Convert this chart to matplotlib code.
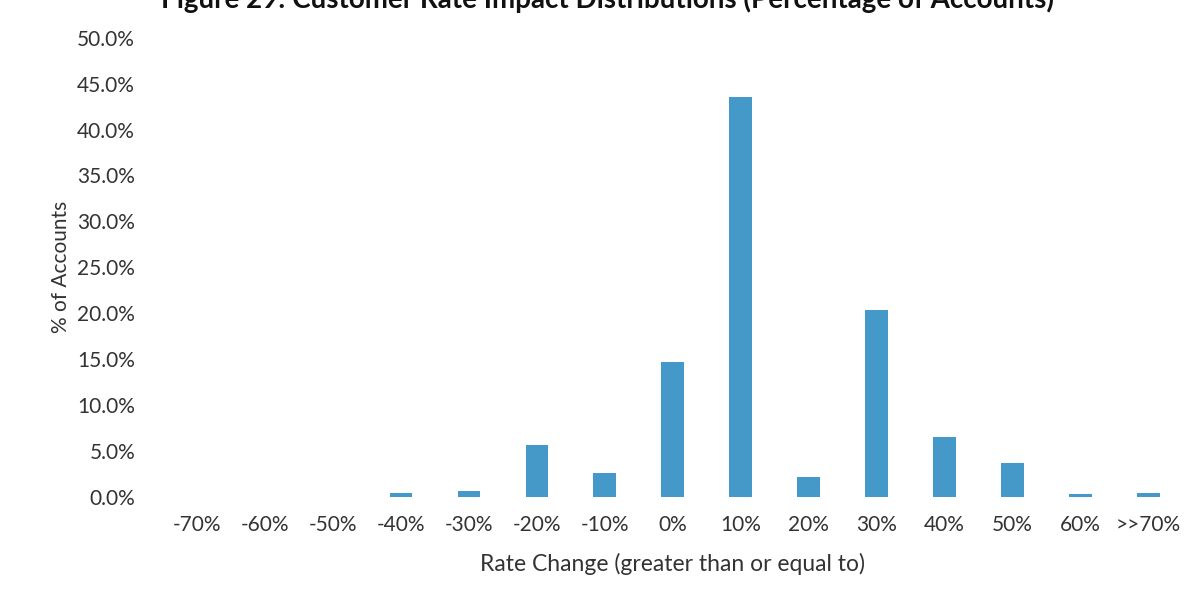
import numpy as np
import matplotlib.pyplot as plt
from matplotlib.ticker import PercentFormatter

plt.rcParams['font.family'] = ['Lato', 'DejaVu Sans']

categories = ['-70%', '-60%', '-50%', '-40%', '-30%', '-20%', '-10%', '0%',
              '10%', '20%', '30%', '40%', '50%', '60%', '>>70%']
share = [0.0, 0.0, 0.0, 0.4, 0.6, 5.6, 2.6, 14.7,
         43.6, 2.2, 20.4, 6.5, 3.7, 0.3, 0.4]

fig = plt.figure(figsize=(11.98, 6.0), dpi=100)
ax = fig.add_axes([0.136, 0.172, 0.851, 0.765])

x = np.arange(len(categories))
ax.bar(x, share, width=0.33, color='#4499c9')

ax.set_xlim(-0.5, len(categories) - 0.5)
ax.set_ylim(0, 50)
ax.set_yticks(np.arange(0, 50.1, 5))
ax.yaxis.set_major_formatter(PercentFormatter(decimals=1))
ax.set_xticks(x)
ax.set_xticklabels(categories)
ax.tick_params(length=0, labelsize=15, colors='#333333')
ax.tick_params(axis='x', pad=13)
ax.tick_params(axis='y', pad=20)
for s in ax.spines.values():
    s.set_visible(False)

ax.set_xlabel('Rate Change (greater than or equal to)', fontsize=16.5, color='#333333')
ax.xaxis.set_label_coords(0.5, -0.122)
ax.set_ylabel('% of Accounts', fontsize=15, color='#333333')
ax.yaxis.set_label_coords(-0.09, 0.5)

fig.text(0.507, 0.986, 'Figure 29: Customer Rate Impact Distributions (Percentage of Accounts)',
         ha='center', va='baseline', fontsize=20, fontweight='bold', color='#111111')

fig.savefig('out.png', dpi=100)
